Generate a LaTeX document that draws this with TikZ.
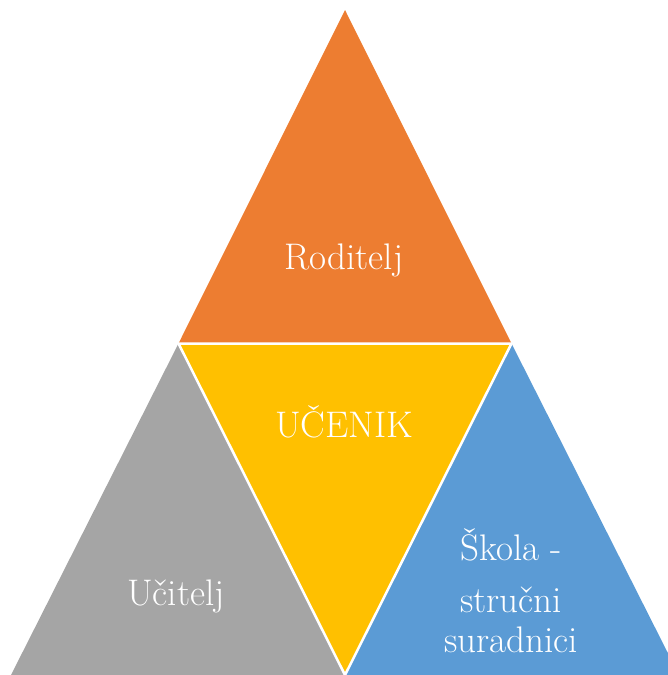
\documentclass[tikz,border=0pt]{standalone}
\usepackage{fontspec}
\definecolor{roditeljorange}{HTML}{ED7D31}
\definecolor{ucenikyellow}{HTML}{FFC000}
\definecolor{uciteljgray}{HTML}{A5A5A5}
\definecolor{skolablue}{HTML}{5B9BD5}
\tikzset{
    part/.style={draw=white, line width=2.5pt, line join=miter},
    label text/.style={text=white, font=\fontsize{37}{44}\selectfont, anchor=base, inner sep=0pt}
}
\begin{document}
\begin{tikzpicture}[x=1pt, y=-1pt]
    \useasboundingbox (0, 0) rectangle (668, 675);
    \clip (0, 0) rectangle (668, 675);

    % corners
    \coordinate (top) at (345, 10);
    \coordinate (botleft) at (11, 675);
    \coordinate (botright) at (679, 675);
    \coordinate (midleft) at (178.5, 343.5);
    \coordinate (midright) at (511.5, 343.5);
    \coordinate (botmid) at (345, 675);

    % triangles
    \fill [fill=roditeljorange] (top) -- (midright) -- (midleft) -- cycle;
    \fill [fill=uciteljgray] (midleft) -- (botmid) -- (botleft) -- cycle;
    \fill [fill=skolablue] (midright) -- (botright) -- (botmid) -- cycle;
    \fill [fill=ucenikyellow] (midleft) -- (midright) -- (botmid) -- cycle;
    \draw [part] (midleft) -- (midright) -- (botmid) -- cycle;

    % labels
    \node (roditelj) at (344, 269) [label text] {Roditelj};
    \node (ucenik) at (344, 437) [label text] {UČENIK};
    \node (ucitelj) at (176, 605) [label text] {Učitelj};
    \node (skola) at (511, 560) [label text] {Škola -};
    \node (strucni) at (511, 612) [label text] {stručni};
    \node (suradnici) at (511, 652) [label text] {suradnici};
\end{tikzpicture}
\end{document}
